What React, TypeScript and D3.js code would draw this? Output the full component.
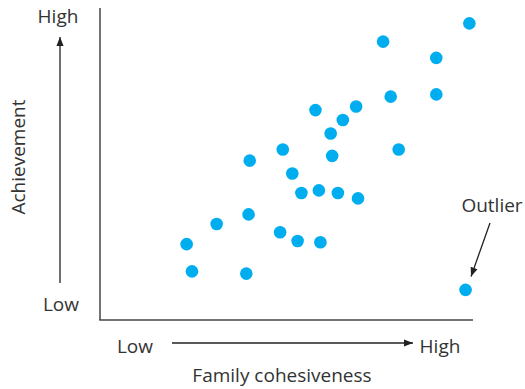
import React from "react";
import * as d3 from "d3";

const cohesion = [97.2, 74.5, 88.5, 76.5, 88.5, 56.7, 67.4, 63.9, 60.7, 48.1, 78.6, 39.4, 61.1, 50.6, 53.0, 57.6, 62.6, 67.9, 39.1, 30.7, 47.4, 52.0, 58.0, 22.8, 24.2, 38.5, 96.2];
const achievement = [92.7, 87.0, 81.9, 69.8, 70.5, 65.6, 66.7, 62.5, 58.3, 53.3, 53.3, 49.8, 51.3, 45.8, 39.7, 40.5, 39.7, 38.0, 33.0, 30.0, 27.4, 24.7, 24.3, 23.7, 15.2, 14.5, 9.4];
const outlierIndex = 26;
const xLabels = ["Low", "High"];
const yLabels = ["Low", "High"];
const xTitle = "Family cohesiveness";
const yTitle = "Achievement";
const outlierLabel = "Outlier";

const W = 525;
const H = 389;
const FONT = "'Open Sans', sans-serif";
const TEXT = "#333";

export default function App() {
  const x = d3.scaleLinear().domain([0, 100]).range([100, 480]);
  const y = d3.scaleLinear().domain([0, 100]).range([320, 0]);
  const ox = x(cohesion[outlierIndex]);
  const oy = y(achievement[outlierIndex]);
  return (
    <svg width={W} height={H} style={{ position: "absolute", left: 0, top: 0 }} fontFamily={FONT}>
      <defs>
        <marker id="ah" viewBox="0 0 10 10" refX="10" refY="5" markerWidth="9" markerHeight="9" markerUnits="userSpaceOnUse" orient="auto">
          <path d="M0,1 L10,5 L0,9 Z" fill="#222" />
        </marker>
      </defs>
      {/* axes */}
      <line x1={100} y1={8} x2={100} y2={320} stroke="#444" strokeWidth={1.5} />
      <line x1={99.25} y1={320} x2={473} y2={320} stroke="#444" strokeWidth={1.5} />
      {/* y arrow */}
      <line x1={60} y1={283} x2={60} y2={37} stroke="#222" strokeWidth={1.3} markerEnd="url(#ah)" />
      <text x={58} y={23} textAnchor="middle" fontSize={19} fill={TEXT}>{yLabels[1]}</text>
      <text x={61} y={311} textAnchor="middle" fontSize={19} fill={TEXT}>{yLabels[0]}</text>
      <text transform="translate(25,157) rotate(-90)" textAnchor="middle" fontSize={19} fill={TEXT}>{yTitle}</text>
      {/* x arrow */}
      <line x1={172} y1={343} x2={413} y2={343} stroke="#222" strokeWidth={1.3} markerEnd="url(#ah)" />
      <text x={135} y={353} textAnchor="middle" fontSize={19} fill={TEXT}>{xLabels[0]}</text>
      <text x={440} y={353} textAnchor="middle" fontSize={19} fill={TEXT}>{xLabels[1]}</text>
      <text x={282} y={382} textAnchor="middle" fontSize={19} fill={TEXT}>{xTitle}</text>
      {/* points */}
      {cohesion.map((c, i) => (
        <circle key={i} cx={x(c)} cy={y(achievement[i])} r={6.3} fill="#00AEEF" />
      ))}
      {/* outlier annotation */}
      <text x={492} y={212} textAnchor="middle" fontSize={19} fill={TEXT}>{outlierLabel}</text>
      <line x1={490} y1={223} x2={ox + 5.5} y2={oy - 13.5} stroke="#222" strokeWidth={1.3} markerEnd="url(#ah)" />
    </svg>
  );
}
